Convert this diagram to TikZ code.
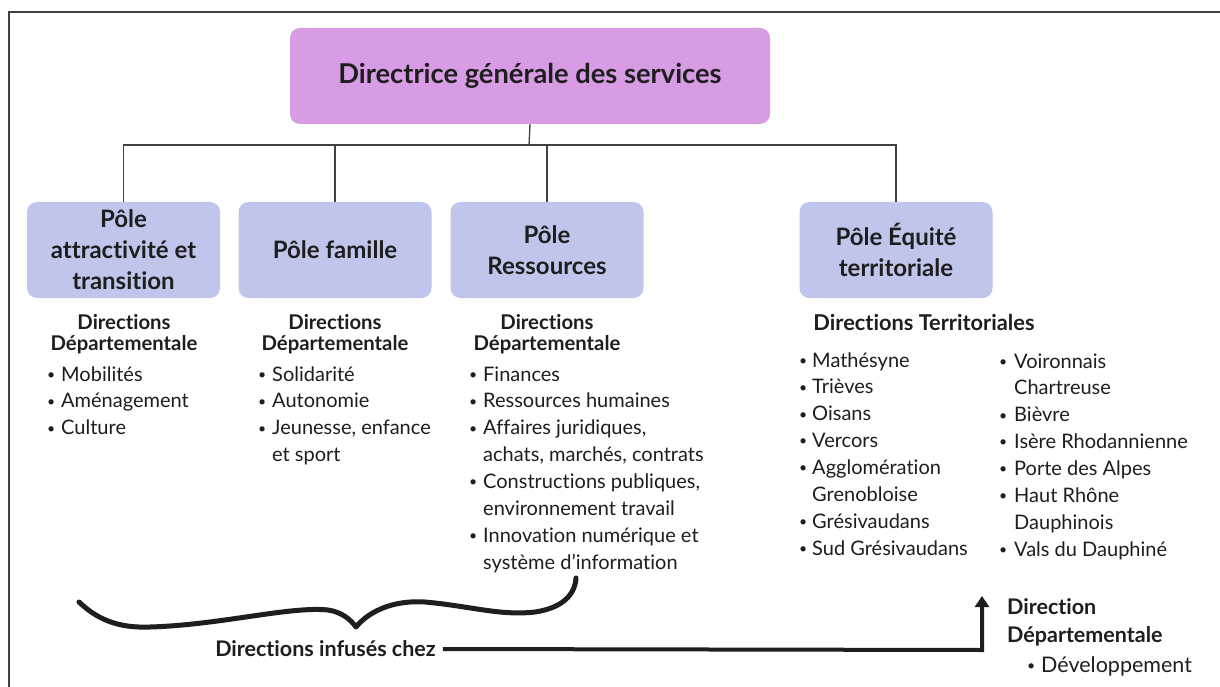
\documentclass[tikz,border=0pt]{standalone}
\usepackage{fontspec}
\setmainfont{Lato}[Ligatures=NoCommon]
\usetikzlibrary{arrows.meta}
\definecolor{dgs}{HTML}{D89CE4}
\definecolor{polec}{HTML}{C0C6EB}
\definecolor{ink}{HTML}{1E1E1E}
\newcommand{\bul}{\raisebox{1.8pt}{\fontsize{14}{14}\selectfont\textbullet}}
\newcommand{\blst}[2]{\begin{tabular}[t]{@{}p{#1}@{}l@{}}#2\end{tabular}}
\newcommand{\hdrtab}[1]{\begin{tabular}[t]{@{}c@{}}#1\end{tabular}}
\newcommand{\hdltab}[1]{\begin{tabular}[t]{@{}l@{}}#1\end{tabular}}
\begin{document}
\begin{tikzpicture}[x=1pt,y=-1pt,
  every node/.style={text=ink, inner sep=0pt},
  topbox/.style={fill=dgs, rounded corners=10pt, minimum width=480pt, minimum height=96pt, font=\fontsize{27.3}{30}\selectfont\bfseries},
  polebox/.style={fill=polec, rounded corners=10pt, minimum width=193pt, minimum height=96pt, align=center, font=\fontsize{24}{31}\selectfont\bfseries},
  link/.style={draw=ink!85, line width=1.3pt},
  hdr/.style={anchor=base, font=\fontsize{20.3}{20}\selectfont\bfseries},
  lst/.style={anchor=base west, font=\fontsize{20}{26.9}\selectfont},
]
\useasboundingbox (0,0) rectangle (1220,687);
\fill[white] (0,0) rectangle (1220,687);
\draw[line width=2.5pt, ink!85, line join=miter] (9,687) -- (9,12) -- (1220,12);

\node[topbox] (top) at (530,76) {Directrice générale des services};
\node[polebox] (p1) at (123.5,250) {Pôle\\attractivité et\\transition};
\node[polebox] (p2) at (335,250) {Pôle famille};
\node[polebox] (p3) at (547,250) {Pôle\\Ressources};
\node[polebox] (p4) at (896,250) {Pôle Équité\\territoriale};

\coordinate (bus) at (529,145);
\draw[link] (top.south) -- (bus);
\draw[link] (p1.north) |- (p4.north |- bus) -- (p4.north);
\draw[link] (p2.north) -- (p2.north |- bus);
\draw[link] (p3.north) -- (p3.north |- bus);

\node[hdr] (h1) at (124,329) {\hdrtab{Directions\\Départementale}};
\node[hdr] (h2) at (335,329) {\hdrtab{Directions\\Départementale}};
\node[hdr] (h3) at (547,329) {\hdrtab{Directions\\Départementale}};
\node[hdr, font=\fontsize{21.8}{22}\selectfont\bfseries] (h4) at (924,330.5) {Directions Territoriales};

\node[lst] (l1) at (47,381) {\blst{14pt}{\bul & Mobilités\\ \bul & Aménagement\\ \bul & Culture}};
\node[lst] (l2) at (258,381) {\blst{14pt}{\bul & Solidarité\\ \bul & Autonomie\\ \bul & Jeunesse, enfance\\ & et sport}};
\node[lst] (l3) at (469,381) {\blst{14pt}{\bul & Finances\\ \bul & Ressources humaines\\ \bul & Affaires juridiques,\\ & achats, marchés, contrats\\ \bul & Constructions publiques,\\ & environnement travail\\ \bul & Innovation numérique et\\ & système d’information}};
\node[lst] (l4) at (799,367) {\blst{13pt}{\bul & Mathésyne\\ \bul & Trièves\\ \bul & Oisans\\ \bul & Vercors\\ \bul & Agglomération\\ & Grenobloise\\ \bul & Grésivaudans\\ \bul & Sud Grésivaudans}};
\node[lst] (l5) at (999,368) {\blst{15pt}{\bul & Voironnais\\ & Chartreuse\\ \bul & Bièvre\\ \bul & Isère Rhodannienne\\ \bul & Porte des Alpes\\ \bul & Haut Rhône\\ & Dauphinois\\ \bul & Vals du Dauphiné}};

\draw[ink, line width=5pt, line cap=round, line join=round]
  (79,602) .. controls (100,622) and (122,628) .. (150,627)
  .. controls (220,625) and (290,606) .. (328,610)
  .. controls (342,612) and (351,620) .. (356,627)
  .. controls (370,610) and (395,600) .. (425,602)
  .. controls (470,606) and (500,616) .. (535,612)
  .. controls (562,608) and (575,595) .. (576,578);

\node[font=\fontsize{21.5}{22}\selectfont\bfseries] (inf) at (325.5,649) {Directions infusés chez};
\node[anchor=base west, font=\fontsize{21.5}{28}\selectfont\bfseries] (dd) at (1007,614.5) {\hdltab{Direction\\Départementale}};
\node[lst, font=\fontsize{21.5}{26.9}\selectfont] (l6) at (1027,672.5) {\blst{14pt}{\bul & Développement}};
\coordinate (corner) at (982,650);
\coordinate (arrtip) at (982,596);
\draw[ink, line width=4pt, -{Triangle[width=14pt,length=11pt]}] ([xshift=7pt]inf.east) -- (corner) -- (arrtip);
\end{tikzpicture}
\end{document}
